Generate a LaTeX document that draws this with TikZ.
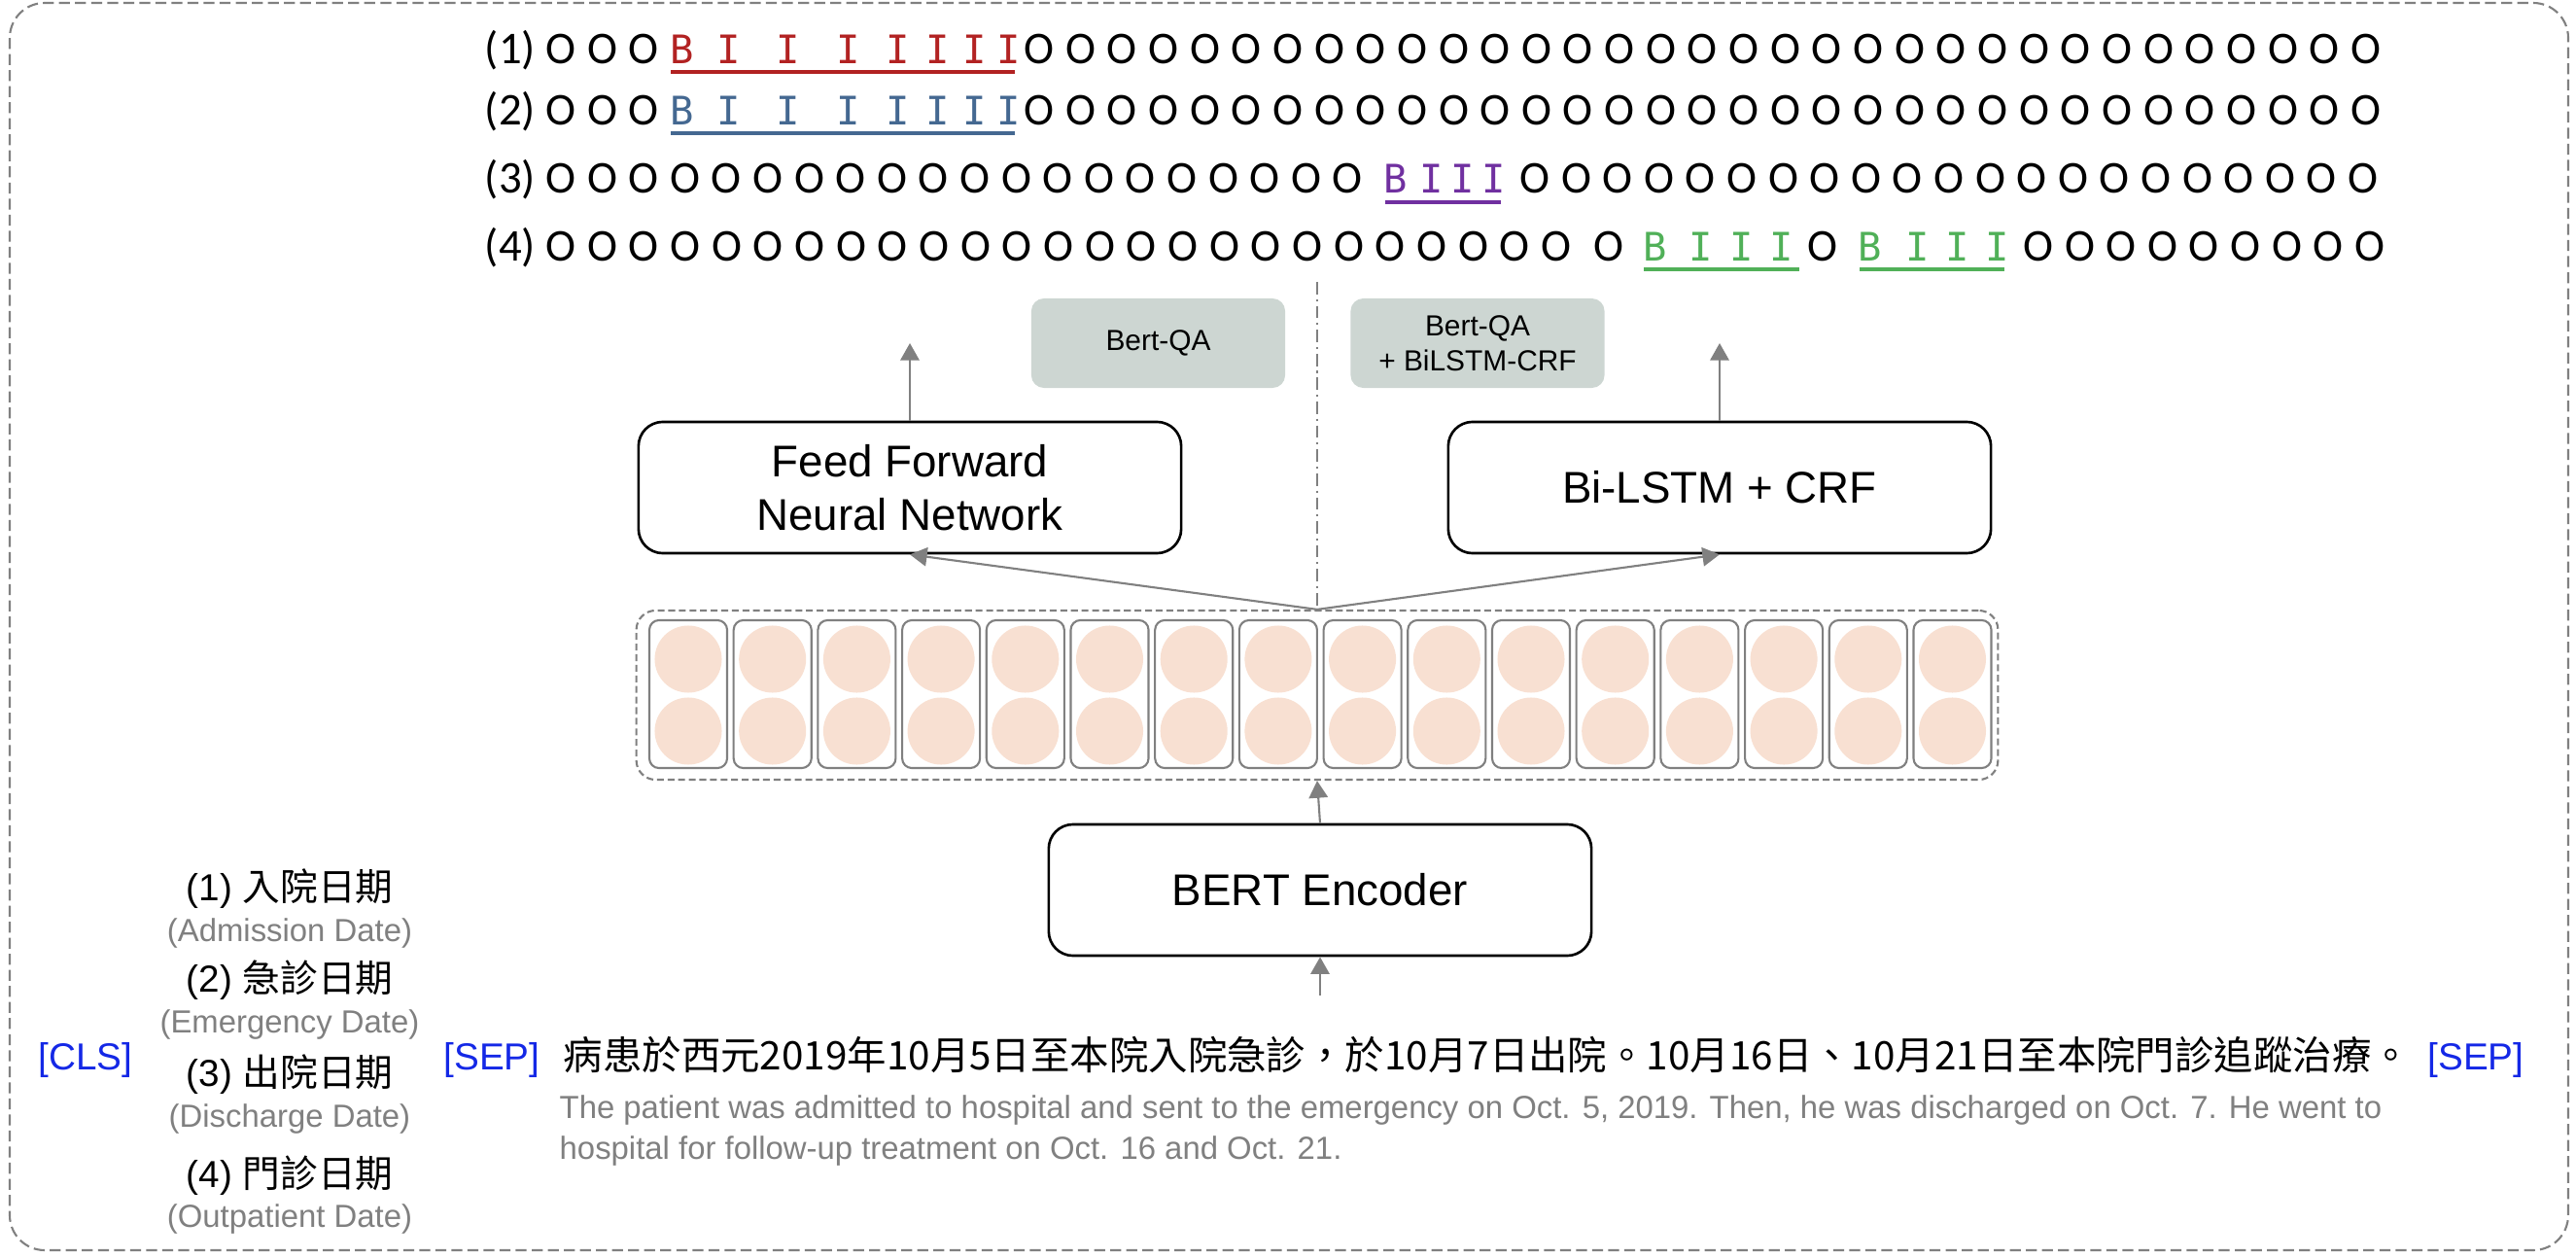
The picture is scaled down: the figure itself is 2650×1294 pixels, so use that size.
\documentclass[tikz,border=0pt]{standalone}
\usepackage{fontspec}
\setmainfont{Liberation Sans}
\newfontfamily\cjkfont{Noto Sans CJK TC}
\newfontfamily\tokfont{Carlito}
\newfontfamily\bifont{DejaVu Sans Mono}
\usetikzlibrary{arrows.meta}

\definecolor{tagred}{RGB}{178,34,34}
\definecolor{tagblue}{RGB}{68,104,145}
\definecolor{tagpurple}{RGB}{112,48,160}
\definecolor{taggreen}{RGB}{80,176,88}
\definecolor{qafill}{RGB}{205,214,210}
\definecolor{cellfill}{RGB}{248,224,210}
\definecolor{linegray}{RGB}{128,128,128}
\definecolor{sepblue}{RGB}{20,40,230}

\begin{document}
\begin{tikzpicture}[
  x=0.01cm, y=-0.01cm,
  >={Triangle[length=5pt,width=5.5pt]},
  outerframe/.style={draw=linegray, line width=0.6pt, dash pattern=on 3.2pt off 1.5pt, rounded corners=0.36cm},
  tok/.style={anchor=base, inner sep=0pt, font=\tokfont\fontsize{13.3}{15}\selectfont},
  bitag/.style={anchor=base, inner sep=0pt, font=\bifont\fontsize{11.5}{13}\selectfont},
  uline/.style={line width=1pt},
  model/.style={draw, rounded corners=0.25cm, line width=0.75pt, minimum width=5.58cm, minimum height=1.35cm, align=center, font=\fontsize{13}{15.6}\selectfont},
  qa/.style={fill=qafill, rounded corners=0.13cm, minimum width=2.61cm, minimum height=0.92cm, align=center, font=\fontsize{8.5}{10.2}\selectfont},
  vecbox/.style={draw=linegray, line width=0.6pt, dash pattern=on 2pt off 1.1pt, rounded corners=0.2cm, minimum width=14cm, minimum height=1.74cm},
  cell/.style={draw=linegray, line width=0.6pt, rounded corners=0.1cm, minimum width=0.8cm, minimum height=1.52cm},
  neuron/.style={circle, fill=cellfill, minimum size=0.69cm, inner sep=0pt},
  flow/.style={->, linegray, line width=0.6pt},
  divider/.style={linegray, line width=0.5pt, dash pattern=on 3.6pt off 1.4pt on 0.6pt off 1.4pt},
  zh/.style={anchor=base, inner sep=0pt, font=\fontsize{11}{13}\selectfont},
  en/.style={anchor=base, inner sep=0pt, text=linegray, font=\fontsize{9.35}{11}\selectfont},
  special/.style={anchor=base, inner sep=0pt, text=sepblue, font=\fontsize{11}{13}\selectfont},
  every node/.style={font=\small}
]
  \useasboundingbox (0,0) rectangle (2650,1294);
  \draw[outerframe] (10,3) rectangle (2642,1286);

  % tag sequences (1)-(4)
  \foreach \r/\y in {1/66,2/129,3/199,4/269}
    \node[tok] (lab\r) at (525,\y) {(\r)};
  \foreach \r/\y/\c in {1/66/tagred,2/129/tagblue} {
    \foreach \i/\x in {1/577,2/619.5,3/662}
      \node[tok] (o\r a\i) at (\x,\y) {O};
    \node[bitag, text=\c] (b\r) at (702,\y) {B};
    \foreach \i/\x in {1/750,2/811,3/873,4/924,5/965,6/1003,7/1038}
      \node[bitag, text=\c] (i\r a\i) at (\x,\y) {I};
    \foreach \i in {0,...,32}
      \node[tok] (o\r b\i) at (1069+42.65*\i,\y) {O};
  }
  \draw[uline, tagred] (690,74) -- (1044,74);
  \draw[uline, tagblue] (690,137) -- (1044,137);

  \foreach \i in {0,...,19}
    \node[tok] (o3a\i) at (577+42.6*\i,199) {O};
  \node[bitag, text=tagpurple] (b3) at (1436,199) {B};
  \foreach \i/\x in {1/1473,2/1505,3/1537}
    \node[bitag, text=tagpurple] (i3a\i) at (\x,199) {I};
  \foreach \i in {0,...,20}
    \node[tok] (o3b\i) at (1579+42.6*\i,199) {O};
  \draw[uline, tagpurple] (1425,208) -- (1544,208);

  \foreach \i in {0,...,24}
    \node[tok] (o4a\i) at (577+42.67*\i,269) {O};
  \node[tok] (o4b) at (1655,269) {O};
  \node[bitag, text=taggreen] (b4a) at (1703,269) {B};
  \foreach \i/\x in {1/1750,2/1792,3/1833}
    \node[bitag, text=taggreen] (i4a\i) at (\x,269) {I};
  \node[tok] (o4c) at (1875,269) {O};
  \node[bitag, text=taggreen] (b4b) at (1924,269) {B};
  \foreach \i/\x in {1/1973,2/2014,3/2055}
    \node[bitag, text=taggreen] (i4b\i) at (\x,269) {I};
  \foreach \i in {0,...,8}
    \node[tok] (o4d\i) at (2097+42.6*\i,269) {O};
  \draw[uline, taggreen] (1691,277) -- (1851,277);
  \draw[uline, taggreen] (1913,277) -- (2062,277);

  % models
  \node[qa] (qa1) at (1191.5,353) {Bert-QA};
  \node[qa] (qa2) at (1520,353) {Bert-QA\\+ BiLSTM-CRF};
  \node[model] (ffnn) at (936,501.5) {Feed Forward\\Neural Network};
  \node[model] (crf) at (1769,501.5) {Bi-LSTM + CRF};
  \node[model] (bert) at (1358,915.5) {BERT Encoder};

  % token vectors
  \node[vecbox] (vec) at (1355,715) {};
  \foreach \i in {0,...,15} {
    \node[cell] (cell\i) at (708+86.7*\i,714) {};
    \node[neuron] (up\i) at (708+86.7*\i,678) {};
    \node[neuron] (dn\i) at (708+86.7*\i,752) {};
  }

  \coordinate (ffnnout) at (936,353);
  \coordinate (crfout) at (1769,353);
  \coordinate (divtop) at (1355,290);
  \coordinate (inp) at (1358,1024);
  \draw[divider] (divtop) -- (vec.north);
  \draw[flow] (ffnn.north) -- (ffnnout);
  \draw[flow] (crf.north) -- (crfout);
  \draw[flow] (vec.north) -- (ffnn.south);
  \draw[flow] (vec.north) -- (crf.south);
  \draw[flow] (bert.north) -- (vec.south);
  \draw[flow] (inp) -- (bert.south);

  % input: question and context
  \node[zh] (q1) at (298,926) {(1) {\cjkfont 入院日期}};
  \node[en] (q1en) at (298,968) {(Admission Date)};
  \node[zh] (q2) at (298,1020) {(2) {\cjkfont 急診日期}};
  \node[en] (q2en) at (298,1062) {(Emergency Date)};
  \node[zh] (q3) at (298,1117) {(3) {\cjkfont 出院日期}};
  \node[en] (q3en) at (298,1159) {(Discharge Date)};
  \node[zh] (q4) at (298,1221) {(4) {\cjkfont 門診日期}};
  \node[en] (q4en) at (298,1262) {(Outpatient Date)};

  \node[special] (cls) at (88,1100) {[CLS]};
  \node[special] (sep1) at (506,1100) {[SEP]};
  \node[special] (sep2) at (2547,1100) {[SEP]};
  \node[zh, anchor=base west, font=\cjkfont\fontsize{11.5}{13}\selectfont] (ctx) at (579,1100) {病患於西元2019年10月5日至本院入院急診，於10月7日出院。10月16日、10月21日至本院門診追蹤治療。};
  \node[en, anchor=base west] (ctxen1) at (575,1150) {The patient was admitted to hospital and sent to the emergency on Oct. 5, 2019. Then, he was discharged on Oct. 7. He went to};
  \node[en, anchor=base west] (ctxen2) at (575,1192) {hospital for follow-up treatment on Oct. 16 and Oct. 21.};
\end{tikzpicture}
\end{document}
